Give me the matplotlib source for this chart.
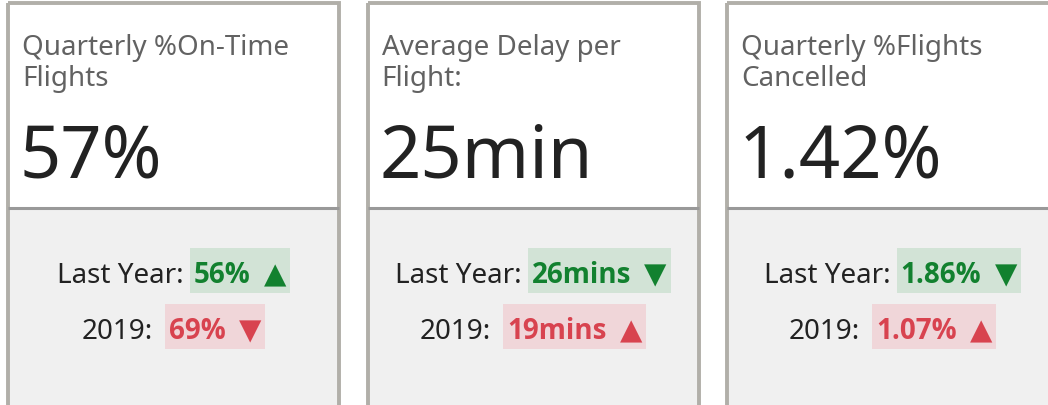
import matplotlib
matplotlib.use("Agg")
import matplotlib.pyplot as plt
from matplotlib.patches import Rectangle

# KPI card data
titles = [["Quarterly %On-Time", "Flights"],
          ["Average Delay per", "Flight:"],
          ["Quarterly %Flights", "Cancelled"]]
values = ["57%", "25min", "1.42%"]
last_year = ["56%", "26mins", "1.86%"]
last_year_arrow = ["▲", "▼", "▼"]
last_year_good = [True, True, True]
y2019 = ["69%", "19mins", "1.07%"]
y2019_arrow = ["▼", "▲", "▲"]
y2019_good = [False, False, False]

W, H = 1048, 406
fonts = ["Noto Sans", "DejaVu Sans"]
bold_fonts = ["Open Sans", "DejaVu Sans"]
green_txt, green_bg = "#12812f", "#d2e3d6"
red_txt, red_bg = "#d8434f", "#f0d6d9"

fig = plt.figure(figsize=(W / 100, H / 100), dpi=100)
ax = fig.add_axes([0, 0, 1, 1])
ax.set_xlim(0, W)
ax.set_ylim(H, 0)
ax.axis("off")
renderer = fig.canvas.get_renderer()


def width_of(t):
    return t.get_window_extent(renderer).width


card_w = 331
for i in range(len(titles)):
    x0 = 8 + i * 359.5
    # card halves
    ax.add_patch(Rectangle((x0, 4), card_w, 205, facecolor="white", edgecolor="none"))
    ax.add_patch(Rectangle((x0, 209), card_w, 220, facecolor="#f0f0f0", edgecolor="none"))
    ax.plot([x0, x0 + card_w], [209, 209], color="#999999", lw=2.2, solid_capstyle="butt")
    ax.add_patch(Rectangle((x0, 4), card_w, 430, facecolor="none", edgecolor="#b1afa9", lw=2.8))

    for k, line in enumerate(titles[i]):
        ax.text(x0 + 14, 55 + 31 * k, line, family=fonts, fontsize=20, color="#626262",
                va="baseline", ha="left")
    ax.text(x0 + 12, 178, values[i], family=fonts, fontsize=52, color="#222222",
            va="baseline", ha="left")

    cx = x0 + card_w / 2
    rows = [("Last Year:", last_year[i], last_year_arrow[i], last_year_good[i], 283, 6),
            ("2019:", y2019[i], y2019_arrow[i], y2019_good[i], 339, 12)]
    for label, val, arr, good, base, gap in rows:
        col = green_txt if good else red_txt
        tl = ax.text(0, base, label, family=fonts, fontsize=20, color="#222222",
                     va="baseline", ha="left")
        tv = ax.text(0, base, val, family=bold_fonts, fontsize=20, fontweight="bold",
                     color=col, va="baseline", ha="left", zorder=2)
        ta = ax.text(0, base, arr, family="DejaVu Sans", fontsize=21, color=col,
                     va="baseline", ha="left", zorder=2)
        wl, wv, wa = width_of(tl), width_of(tv), width_of(ta)
        pad, agap = 4, 13
        bw = pad + wv + agap + wa + pad
        left = cx - (wl + gap + bw) / 2
        tl.set_x(left)
        bx = left + wl + gap
        ax.add_patch(Rectangle((bx, base - 34), bw, 45,
                               facecolor=green_bg if good else red_bg, edgecolor="none", zorder=1))
        tv.set_x(bx + pad)
        ta.set_x(bx + pad + wv + agap)

fig.savefig("out.png", dpi=100)
